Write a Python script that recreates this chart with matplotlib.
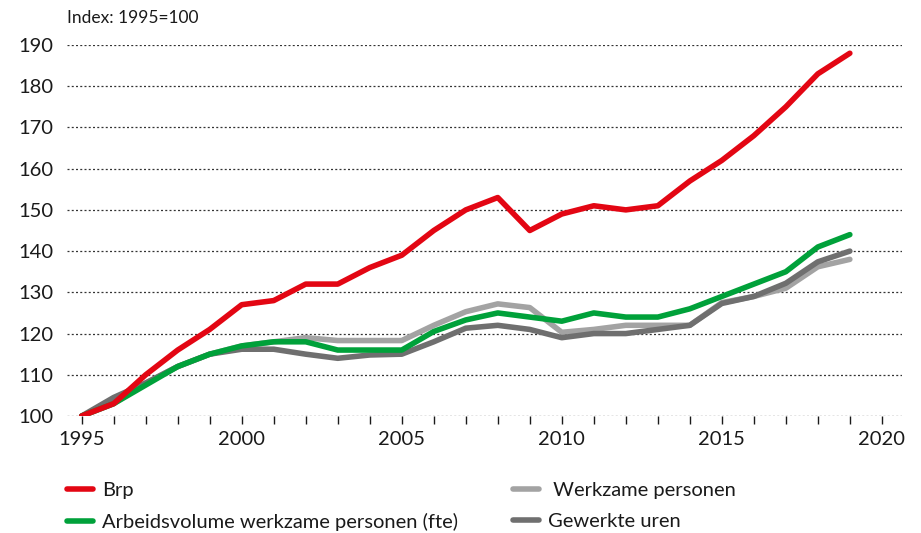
import matplotlib
matplotlib.use("Agg")
import matplotlib.pyplot as plt

plt.rcParams["font.family"] = ["Lato", "DejaVu Sans"]

years = list(range(1995, 2020))
brp = [100, 103, 110, 116, 121, 127, 128, 132, 132, 136, 139, 145, 150, 153, 145,
       149, 151, 150, 151, 157, 162, 168, 175, 183, 188]
fte = [100, 103, 107.5, 112, 115, 117, 118, 118, 116, 116, 116, 120.5, 123.3, 125, 124,
       123, 125, 124, 124, 126, 129, 132, 135, 141, 144]
personen = [100, 103, 108, 112, 115, 117, 118, 119, 118.3, 118.3, 118.3, 122, 125.3, 127.2, 126.3,
            120.3, 121, 122, 122, 122, 127.5, 129, 131, 136.2, 138]
uren = [100, 104.5, 108, 112, 115, 116.2, 116.2, 115, 114, 114.8, 115, 118, 121.3, 122, 121,
        119, 120, 120, 121, 122, 127.3, 129, 132.2, 137.4, 140]

red = "#e30613"
green = "#00a13a"
light = "#a3a3a3"
dark = "#6f6f6f"

fig = plt.figure(figsize=(9.21, 5.33), dpi=100)
ax = fig.add_axes([0.0727, 0.2195, 0.9067, 0.6961])

style = dict(lw=4, solid_capstyle="round", solid_joinstyle="round")
l3, = ax.plot(years, personen, color=light, **style)
l4, = ax.plot(years, uren, color=dark, **style)
l2, = ax.plot(years, fte, color=green, **style)
l1, = ax.plot(years, brp, color=red, **style)

ax.set_xlim(1994.54, 2020.63)
ax.set_ylim(100, 190)
ax.set_yticks(range(100, 191, 10))
ax.set_xticks(range(1995, 2021))
ax.set_xticklabels([str(y) if y % 5 == 0 else "" for y in range(1995, 2021)])

for s in ax.spines.values():
    s.set_visible(False)
ax.grid(axis="y", color="#333333", lw=0.9, linestyle=(0, (1.6, 1.8)), zorder=0)
ax.set_axisbelow(True)
ax.tick_params(axis="y", length=0, pad=10, labelsize=14.5, colors="#1a1a1a")
ax.tick_params(axis="x", direction="out", length=5.5, width=1, color="#1a1a1a",
               pad=5, labelsize=14.5, labelcolor="#1a1a1a")

fig.text(0.0727, 0.966, "Index: 1995=100", fontsize=12.5, color="#1a1a1a", va="center")

leg = fig.legend([l1, l2, l3, l4],
                 ["Brp", "Arbeidsvolume werkzame personen (fte)", " Werkzame personen", "Gewerkte uren"],
                 ncol=2, loc="upper left", bbox_to_anchor=(0.0727, 0.095), frameon=False,
                 fontsize=14.5, handlelength=1.3, handletextpad=0.45, columnspacing=2.7,
                 labelspacing=0.65, borderaxespad=0, borderpad=0)
for t in leg.get_texts():
    t.set_color("#1a1a1a")

fig.savefig("out.png", dpi=100)
